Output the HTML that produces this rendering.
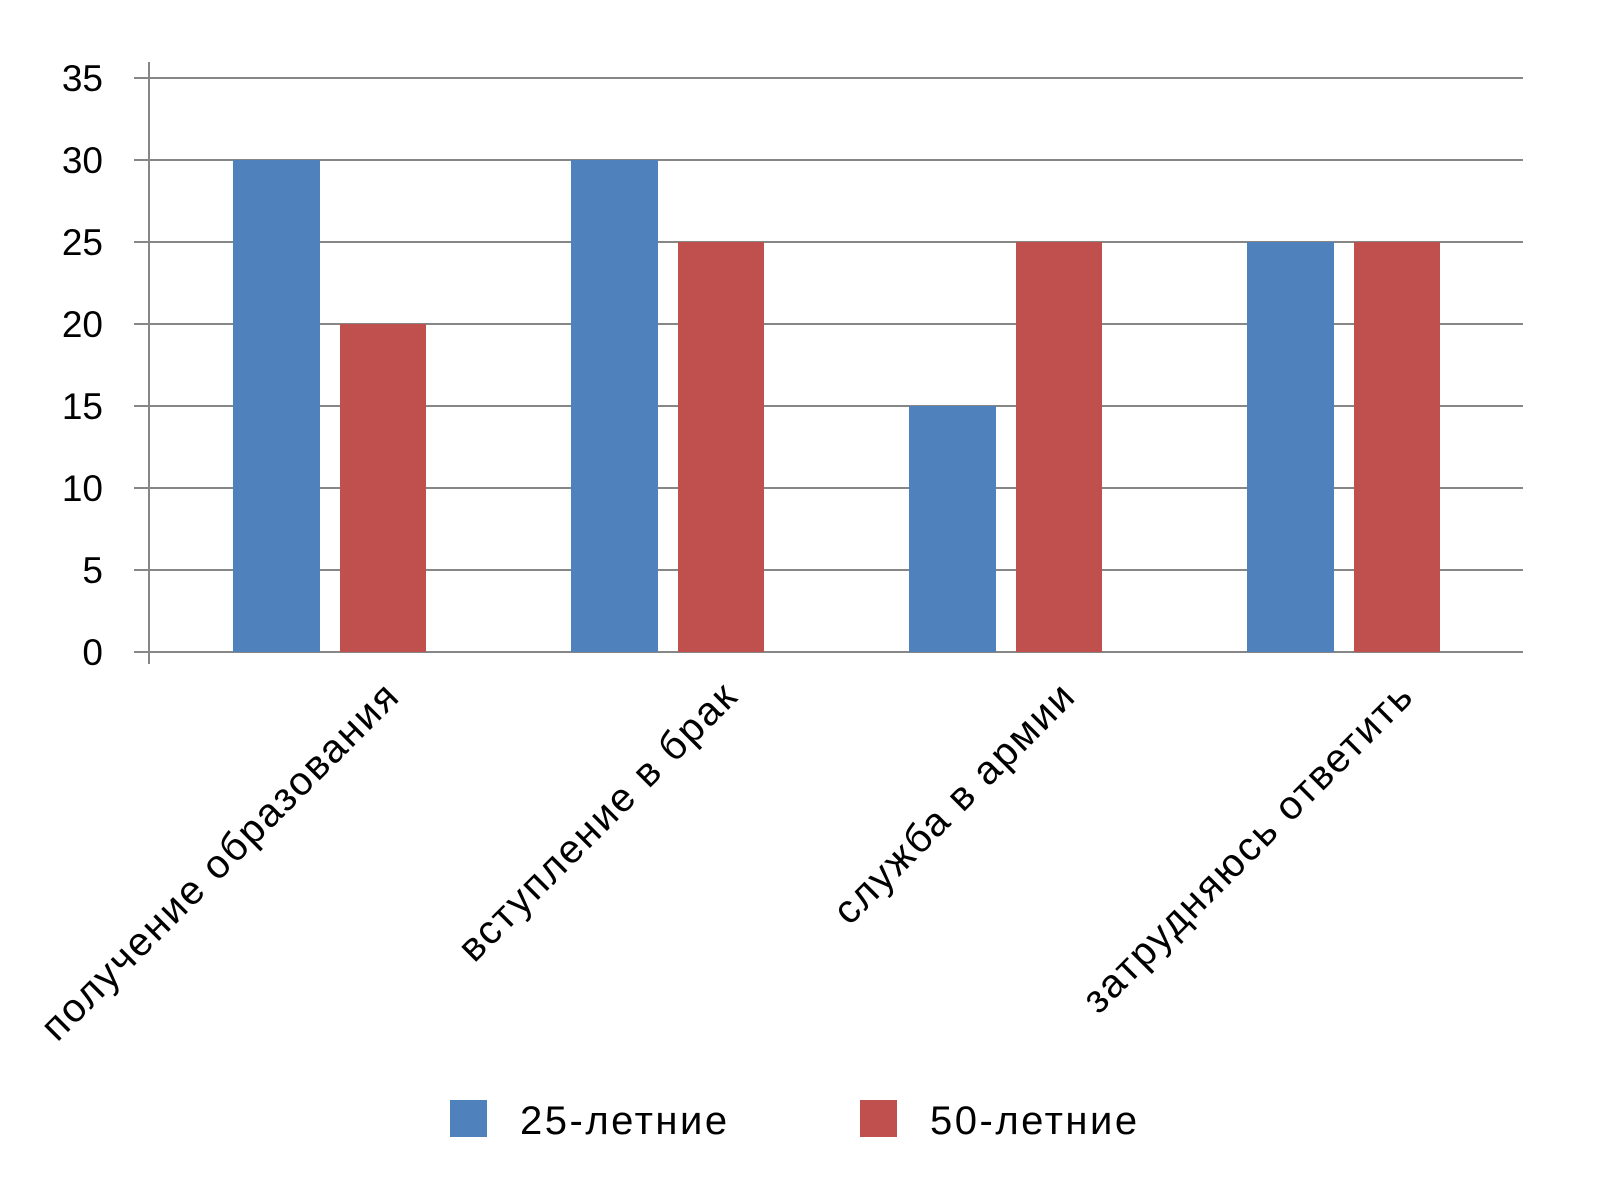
<!DOCTYPE html>
<html><head><meta charset="utf-8"><style>
html,body{margin:0;padding:0;background:#fff;}
svg{display:block;font-family:"Liberation Sans",sans-serif;}
</style></head><body>
<svg id="chart" width="1600" height="1192" xmlns="http://www.w3.org/2000/svg">
<g id="grid"></g>
<g id="bars"></g>
<g id="yticks"></g>
<g id="xlabels"></g>
<g>
<rect x="450" y="1100" width="37" height="37" fill="#4f81bd"/>
<text x="520" y="1134" font-size="40" letter-spacing="2.5" fill="#000">25-летние</text>
<rect x="860" y="1100" width="37" height="37" fill="#c0504d"/>
<text x="930" y="1134" font-size="40" letter-spacing="2.5" fill="#000">50-летние</text>
</g>
</svg>
<script>
const categories = ["получение образования","вступление в брак","служба в армии","затрудняюсь ответить"];
const series25 = [30,30,15,25];
const series50 = [20,25,25,25];
const yTicks = [0,5,10,15,20,25,30,35];
const NS="http://www.w3.org/2000/svg";
const x0=149,x1=1523,yTop=78,yBot=652,yMax=35;
const catW=338;
function y(v){return yBot-(v/yMax)*(yBot-yTop);}
function mk(t,a,p){const e=document.createElementNS(NS,t);for(const k in a)e.setAttribute(k,a[k]);p.appendChild(e);return e;}
const grid=document.getElementById('grid'),bars=document.getElementById('bars'),yt=document.getElementById('yticks'),xl=document.getElementById('xlabels');
yTicks.forEach(v=>{
 const l=mk('line',{x1:134,x2:x1,y1:y(v),y2:y(v),stroke:'#868686','stroke-width':2},grid);
 
 
 const t=mk('text',{x:103,y:y(v)+13,'text-anchor':'end','font-size':37,fill:'#000'},yt);
 t.textContent=v;
 
 
});
const ax=mk('line',{x1:x0,x2:x0,y1:62,y2:664,stroke:'#868686','stroke-width':2},grid);


categories.forEach((c,i)=>{
 const bx=x0+i*catW+84;
 const b1=mk('rect',{x:bx,y:y(series25[i]),width:87,height:yBot-y(series25[i]),fill:'#4f81bd'},bars);
 
 
 const b2=mk('rect',{x:bx+107,y:y(series50[i]),width:86,height:yBot-y(series50[i]),fill:'#c0504d'},bars);
 
 
 const cx=bx+97;
 const ax_=cx+72, ay=698;
 const t=mk('text',{x:ax_,y:ay,'text-anchor':'end','font-size':40,'letter-spacing':2,fill:'#000',transform:`rotate(-45 ${ax_} ${ay})`},xl);
 t.textContent=c;
 
 
});
</script>
</body></html>
